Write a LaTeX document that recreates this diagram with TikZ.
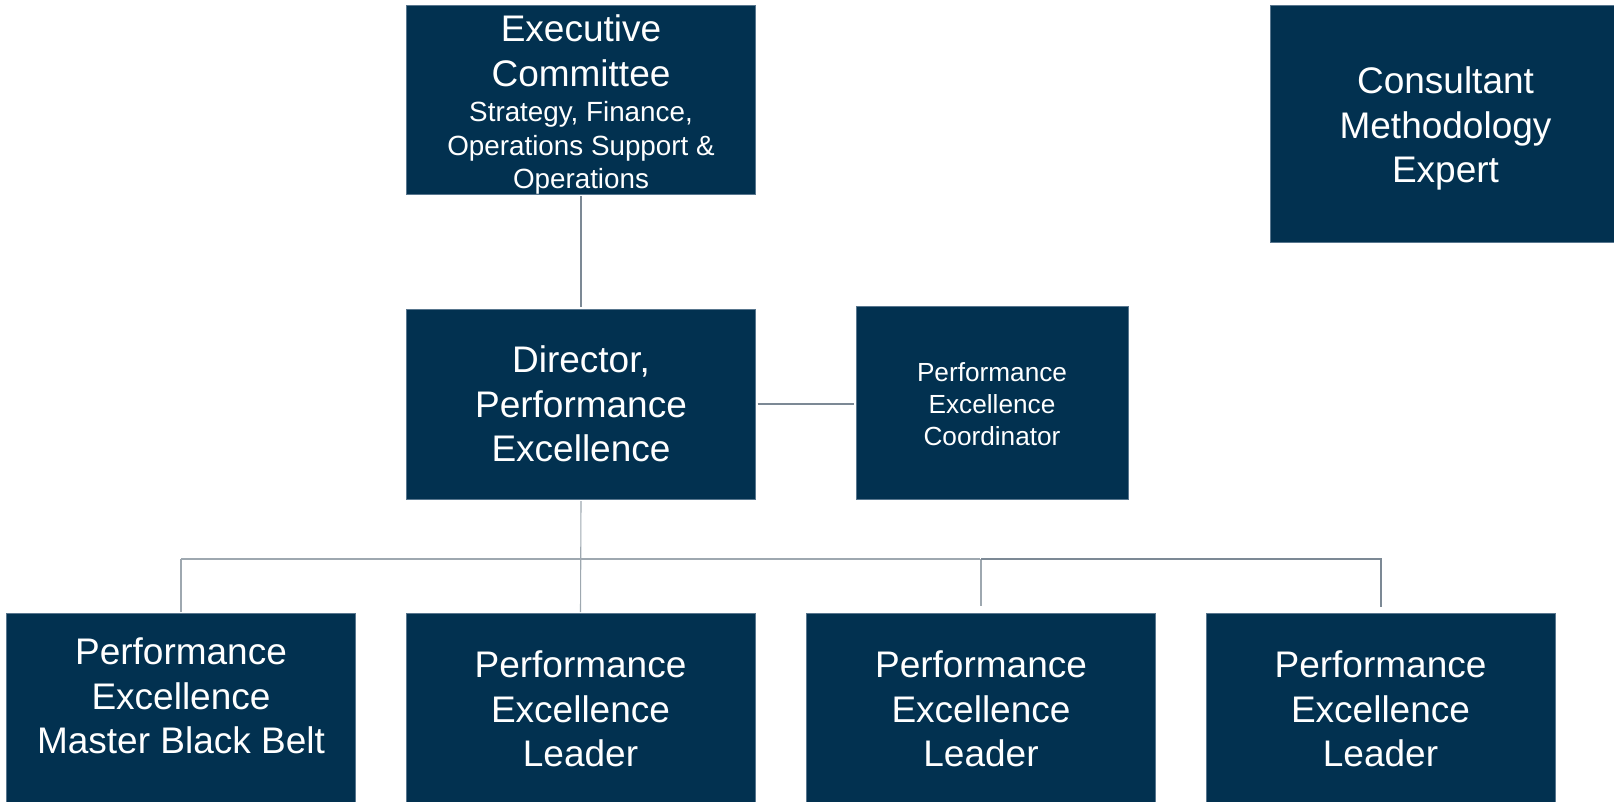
\documentclass[tikz,border=0pt]{standalone}
\usepackage{fontspec}
\setmainfont{Liberation Sans}
\definecolor{navy}{RGB}{2,49,80}
\definecolor{boxedge}{RGB}{88,118,142}
\definecolor{linkdark}{RGB}{124,137,149}
\definecolor{linklight}{RGB}{158,168,176}
\begin{document}
\begin{tikzpicture}[x=1pt,y=-1pt,
  box/.style={draw=boxedge, line width=1pt, fill=navy, text=white,
    align=center, inner sep=0pt},
  bigtext/.style={font=\fontsize{37}{44.5}\selectfont},
  subtext/.style={font=\fontsize{27.8}{33.3}\selectfont},
  smalltext/.style={font=\fontsize{26.2}{31.9}\selectfont},
  txt/.style={text=white, align=center, inner sep=0pt},
  linkthick/.style={draw=linkdark, line width=2pt, shorten <=1.5pt, shorten >=1.5pt},
  linkthin/.style={draw=linklight, line width=1.1pt, shorten <=1.5pt, shorten >=1.5pt},
]
\useasboundingbox (0,0) rectangle (1614,801);
\fill[white] (0,0) rectangle (1614,801);

% top row
\node[box, minimum width=349pt, minimum height=189pt] (exec) at (581,99.5) {};
\node[txt, bigtext] (exectitle) at (581,51) {Executive\\Committee};
\node[txt, subtext] (execsub) at (581,148) {Strategy, Finance,\\Operations Support \&\\Operations};

\node[box, minimum width=351pt, minimum height=237pt] (consult) at (1445.5,123.5) {};
\node[txt, bigtext] (consulttext) at (1445.5,128.5) {Consultant\\Methodology\\Expert};

% middle row
\node[box, bigtext, minimum width=349pt, minimum height=190pt] (director) at (581,404)
  {Director,\\Performance\\Excellence};
\node[box, minimum width=272pt, minimum height=193pt] (coord) at (992,402.5) {};
\node[txt, smalltext] (coordtext) at (992,404.5) {Performance\\Excellence\\Coordinator};

% bottom row
\node[box, minimum width=349pt, minimum height=192pt] (mbb) at (181,709) {};
\node[txt, bigtext] (mbbtext) at (181,696) {Performance\\Excellence\\Master Black Belt};
\node[box, bigtext, minimum width=349pt, minimum height=192pt] (lead1) at (580.5,709)
  {Performance\\Excellence\\Leader};
\node[box, bigtext, minimum width=349pt, minimum height=192pt] (lead2) at (981,709)
  {Performance\\Excellence\\Leader};
\node[box, bigtext, minimum width=349pt, minimum height=192pt] (lead3) at (1380.5,709)
  {Performance\\Excellence\\Leader};

% reporting lines
\coordinate (bus) at (0,559);
\path[linkthick] (exec.south) -- (director.north);
\path[linkthick] (director.east) -- (director.east -| coord.west);
\path[linkthin] (director.south) -- ([yshift=-1pt]lead1.north);
\path[linkthin, shorten <=0pt] (mbb.north |- bus) -- (lead2.north |- bus);
\path[linkthin, shorten >=0pt] ([yshift=-1pt]mbb.north) -- (mbb.north |- bus);
\path[linkthin, shorten <=0pt] (lead2.north |- bus) -- ([yshift=5pt]lead2.north);
\path[linkthick, shorten <=0pt, shorten >=0pt] (lead2.north |- bus) -- (lead3.north |- bus)
  -- ([yshift=6pt]lead3.north);
\end{tikzpicture}
\end{document}
